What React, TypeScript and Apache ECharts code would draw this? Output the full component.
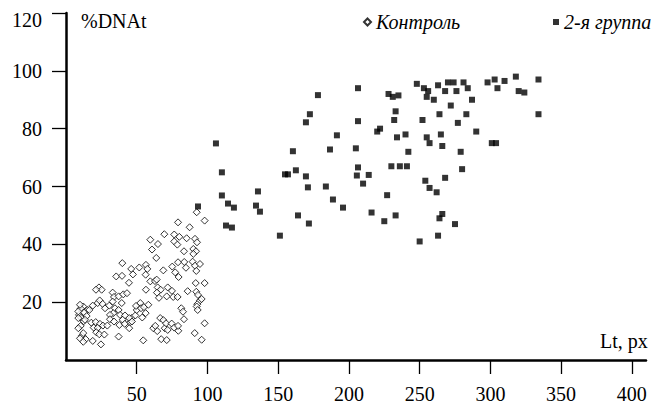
import React, { useEffect, useRef } from "react";
import * as echarts from "echarts";

const xTicks = [50, 100, 150, 200, 250, 300, 350, 400];
const yTicks = [20, 40, 60, 80, 100, 120];
const seriesNames = ["Контроль", "2-я группа"];
const axisNames = ["%DNAt", "Lt, px"];

const controlData: [number, number][] = [
  [92.4, 51.1], [98.0, 48.2], [79.2, 47.6], [87.4, 45.9], [69.5, 43.5], [59.6, 41.6],
  [65.0, 40.1], [76.5, 43.4], [80.1, 42.6], [76.5, 41.0], [78.7, 39.9], [85.3, 42.1],
  [91.2, 41.9], [92.6, 40.7], [83.4, 37.6], [90.0, 38.4], [91.9, 37.6], [90.0, 36.7],
  [60.8, 38.2], [63.8, 35.3], [39.8, 33.5], [35.5, 28.9], [39.6, 29.1], [46.1, 31.5],
  [51.8, 32.0], [56.5, 32.9], [57.5, 31.5], [56.3, 29.5], [47.3, 29.6], [68.8, 31.0],
  [75.1, 32.3], [79.2, 33.8], [83.6, 33.9], [84.8, 31.9], [77.2, 30.3], [79.6, 28.7],
  [89.5, 34.0], [91.2, 32.6], [92.1, 30.8], [94.7, 33.2], [59.6, 27.2], [62.9, 27.3],
  [64.1, 27.8], [44.5, 26.7], [23.3, 25.1], [25.2, 24.3], [21.2, 24.3], [33.0, 23.3],
  [33.9, 21.8], [37.2, 22.0], [40.5, 22.7], [43.1, 23.1], [64.8, 25.1], [66.9, 24.3],
  [64.3, 23.3], [65.7, 21.5], [71.9, 25.1], [74.9, 23.9], [71.2, 22.0], [75.8, 21.8],
  [78.9, 21.8], [86.0, 23.8], [91.7, 26.6], [98.0, 26.6], [92.1, 23.6], [93.3, 22.5],
  [94.7, 20.6], [92.8, 19.3], [95.9, 21.1], [12.2, 18.5], [10.4, 17.8], [15.1, 17.3],
  [12.9, 16.4], [18.9, 18.8], [16.5, 17.3], [9.2, 15.6], [10.6, 14.6], [14.6, 15.2],
  [12.5, 13.4], [10.4, 11.8], [17.9, 12.9], [21.0, 13.1], [24.0, 12.5], [19.6, 11.2],
  [26.1, 11.9], [22.4, 11.1], [21.4, 9.6], [23.5, 8.9], [27.1, 8.8], [29.2, 11.9],
  [11.3, 8.4], [13.9, 7.2], [18.9, 6.6], [24.7, 5.4], [22.4, 19.7], [23.8, 20.6],
  [25.9, 19.4], [27.6, 17.9], [30.6, 18.8], [33.0, 20.2], [34.6, 17.9], [33.4, 16.2],
  [37.2, 17.3], [39.4, 19.7], [31.1, 15.6], [31.1, 14.1], [33.9, 13.3], [38.2, 15.6],
  [41.7, 15.4], [40.1, 13.9], [37.7, 12.1], [41.5, 12.5], [44.7, 11.0], [45.4, 13.1],
  [46.4, 14.5], [37.2, 8.1], [49.0, 15.4], [50.0, 17.3], [52.5, 19.7], [49.5, 18.7],
  [53.0, 17.9], [56.3, 16.2], [55.1, 18.3], [58.2, 19.1], [54.6, 6.8], [61.7, 11.0],
  [64.5, 10.0], [63.1, 11.8], [66.6, 14.5], [68.8, 13.8], [69.8, 11.0], [70.7, 12.7],
  [71.9, 10.4], [74.7, 12.6], [76.5, 11.2], [79.4, 10.1], [79.2, 11.8], [67.3, 7.2],
  [71.2, 6.9], [81.5, 17.9], [82.7, 16.7], [83.4, 14.1], [92.4, 18.5], [93.1, 17.3],
  [91.0, 9.3], [95.9, 7.0], [98.0, 12.7], [9.9, 19.1], [8.7, 16.8], [8.7, 14.5],
  [13.4, 13.9], [8.7, 11.0], [12.2, 9.3], [9.9, 7.5], [12.2, 6.3],
  [53.9, 14.7], [44.7, 14.5], [46.6, 13.3], [56.5, 24.3],
];

const group2Data: [number, number][] = [
  [106.0, 74.9], [110.2, 64.9], [110.2, 56.9], [114.5, 54.1], [118.7, 52.7], [113.1, 46.5],
  [117.3, 45.8], [93.3, 53.1], [135.7, 58.3], [134.3, 53.4], [137.1, 51.3], [151.2, 43.0],
  [154.8, 64.2], [156.9, 64.2], [160.4, 72.2], [162.5, 65.6], [164.0, 50.0], [169.6, 63.5],
  [171.0, 59.7], [171.7, 47.2], [169.6, 82.2], [172.4, 85.0], [178.1, 91.6], [183.7, 60.0],
  [186.6, 72.8], [188.7, 55.5], [191.5, 77.7], [195.8, 52.7], [204.9, 73.2], [205.6, 63.8],
  [206.4, 66.6], [206.4, 82.6], [206.4, 94.0],
  [210, 61], [214, 64], [216, 51], [220, 79], [222, 80], [228, 92], [231, 91],
  [235, 91.5], [233, 86], [232, 83], [234, 77], [230, 67], [227, 57], [236, 67],
  [233, 50], [240, 78], [241, 67], [242, 72], [225, 48],
  [250, 41], [248, 95.5], [253, 94], [256, 93], [255, 91], [252, 83], [255, 77],
  [257, 75], [254, 62], [257, 59.5], [262, 58], [260, 90], [263, 95], [264, 85],
  [265, 78], [266, 74], [263, 43], [264, 49], [266, 50.5], [268, 93], [268, 63],
  [270, 96], [272, 88], [274, 96], [276, 93], [275, 47], [277, 82], [279, 72],
  [280, 66], [281, 96], [283, 85], [284, 94], [287, 90],
  [290, 79], [298, 96], [301, 75], [303, 97], [304, 75], [305, 94], [310, 96.5],
  [318, 98], [320, 93], [324, 92.5], [334, 97], [334, 85],
];

export default function App() {
  const ref = useRef<HTMLDivElement>(null);
  useEffect(() => {
    if (!ref.current) return;
    const chart = echarts.init(ref.current, null, { renderer: "svg" });
    const font = "Liberation Serif";
    const legendText = { fontFamily: font, fontStyle: "italic", fontSize: 20, color: "#000" };
    chart.setOption({
      animation: false,
      backgroundColor: "#ffffff",
      textStyle: { fontFamily: font },
      grid: { left: 66, top: 13, width: 580, height: 348 },
      legend: [
        {
          data: [{ name: seriesNames[0], icon: "diamond" }],
          left: 358,
          top: 7,
          itemWidth: 7,
          itemHeight: 7,
          textStyle: legendText,
        },
        {
          data: [{ name: seriesNames[1], icon: "rect" }],
          left: 548,
          top: 7,
          itemWidth: 6,
          itemHeight: 6,
          textStyle: legendText,
        },
      ],
      xAxis: {
        type: "value",
        min: 0,
        max: 410,
        interval: 50,
        splitLine: { show: false },
        axisLine: { show: true, lineStyle: { color: "#000", width: 2.5 } },
        axisTick: { show: true, customValues: xTicks, length: 14, lineStyle: { color: "#000", width: 1.3 } },
        axisLabel: { customValues: xTicks, margin: 24, fontSize: 20, color: "#000", fontFamily: font },
      },
      yAxis: {
        type: "value",
        min: 0,
        max: 120,
        interval: 20,
        splitLine: { show: false },
        axisLine: { show: true, lineStyle: { color: "#000", width: 2.5 } },
        axisTick: { show: true, customValues: yTicks, length: 14, lineStyle: { color: "#000", width: 1.3 } },
        axisLabel: {
          customValues: yTicks,
          margin: 24,
          fontSize: 20,
          color: "#000",
          fontFamily: font,
          formatter: (v: number) => (v === 120 ? "{top|120}" : String(v)),
          rich: { top: { fontSize: 20, fontFamily: font, color: "#000", padding: [14, 0, 0, 0] } },
        },
      },
      graphic: [
        { type: "text", left: 81, top: 11, style: { text: axisNames[0], font: `20px "${font}"`, fill: "#000" } },
        { type: "text", left: 600, top: 331, style: { text: axisNames[1], font: `20px "${font}"`, fill: "#000" } },
      ],
      series: [
        {
          name: seriesNames[0],
          type: "scatter",
          symbol: "diamond",
          symbolSize: 7,
          data: controlData,
          itemStyle: { color: "#ffffff", borderColor: "#000", borderWidth: 1 },
        },
        {
          name: seriesNames[1],
          type: "scatter",
          symbol: "rect",
          symbolSize: 6,
          data: group2Data,
          itemStyle: { color: "#000" },
        },
      ],
    });
    return () => chart.dispose();
  }, []);
  return <div ref={ref} style={{ position: "absolute", left: 0, top: 0, width: 651, height: 404 }} />;
}
